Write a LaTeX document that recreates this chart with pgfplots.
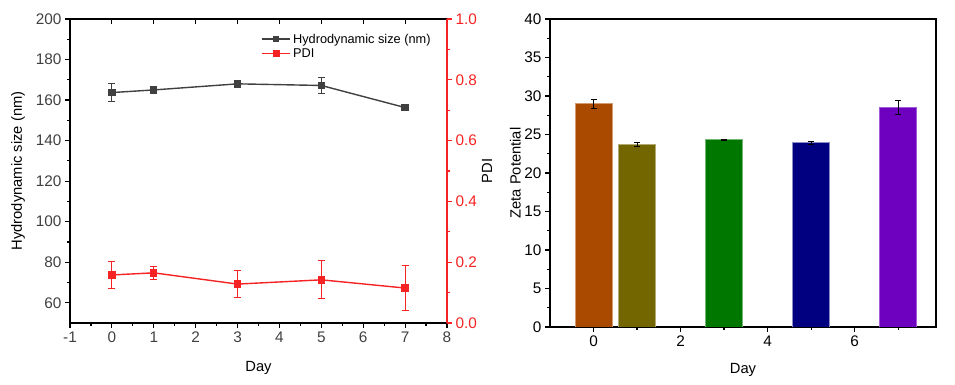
\documentclass[border=0pt]{standalone}
\usepackage{fontspec}
\setmainfont{Liberation Sans}
\usepackage{pgfplots}
\pgfplotsset{compat=1.18}
\definecolor{hgray}{RGB}{64,64,64}
\definecolor{pdired}{RGB}{245,35,35}
\definecolor{cA}{RGB}{170,74,0}
\definecolor{cB}{RGB}{115,102,0}
\definecolor{cC}{RGB}{0,120,0}
\definecolor{cD}{RGB}{0,0,128}
\definecolor{cE}{RGB}{110,0,192}
\pgfplotsset{
  every axis/.append style={font=\fontsize{14.8}{17}\selectfont, /pgf/number format/assume math mode=true},
  common/.style={scale only axis, anchor=south west, tick align=outside,
    major tick length=5bp, minor tick length=3bp,
    tick label style={font=\fontsize{15.4}{17}\selectfont},
    axis line style={line width=1.5bp}, every tick/.style={line width=1.2bp}},
}
\begin{document}
\begin{tikzpicture}
\path[use as bounding box] (0bp,0bp) rectangle (955bp,385bp);
% ---- left chart, main axis
\begin{axis}[common, at={(70bp,62bp)}, width=377bp, height=304bp,
  xmin=-1, xmax=8, ymin=50, ymax=200,
  xtick={-1,0,...,8}, ytick={60,80,...,200},
  minor x tick num=1, minor y tick num=1,
  xtick pos=bottom, ytick pos=left,
  ticklabel style={text=hgray},
  xlabel={Day}, ylabel={Hydrodynamic size (nm)},
  xlabel style={at={(axis description cs:0.5,-0.148)}, anchor=center},
  ylabel style={at={(axis description cs:-0.138,0.5)}, anchor=center},
]
\addplot[hgray, line width=1.4bp, mark=square*, mark size=3bp,
  error bars/.cd, y dir=both, y explicit,
  error bar style={line width=1bp, hgray},
  error mark options={rotate=90, mark size=3.5bp, line width=1bp, hgray}]
coordinates {(0,163.7) +- (0,4.5) (1,165.0) +- (0,1.4) (3,168.0) +- (0,1.0) (5,167.2) +- (0,4.1) (7,156.3) +- (0,1.5)};
\end{axis}
% ---- top ticks inward
\begin{axis}[common, at={(70bp,62bp)}, width=377bp, height=304bp,
  xmin=-1, xmax=8, ymin=50, ymax=200,
  axis x line*=top, axis y line=none, tick align=inside,
  xtick={-1,0,...,8}, xticklabels={}, ytick=\empty]
\addplot[draw=none] coordinates {(0,100)};
\end{axis}
% ---- left chart, PDI axis
\begin{axis}[common, at={(70bp,62bp)}, width=377bp, height=304bp,
  xmin=-1, xmax=8, ymin=0, ymax=1,
  axis x line=none, axis y line*=right,
  ytick={0,0.2,...,1.0}, minor y tick num=1,
  axis line style={pdired, line width=1.5bp},
  every tick/.style={pdired, line width=1.2bp},
  yticklabel style={text=pdired, /pgf/number format/.cd, fixed, fixed zerofill, precision=1},
  ylabel={PDI},
  ylabel style={at={(axis description cs:1.106,0.5)}, anchor=center},
  legend style={draw=none, fill=none, at={(0.5,0.965)}, anchor=north west,
    font=\fontsize{12.8}{14}\selectfont, row sep=0bp, text=black},
  legend cell align=left,
  legend image code/.code={\draw[mark repeat=2,mark phase=2,#1] plot coordinates {(0bp,0bp) (14bp,0bp) (28bp,0bp)};},
]
\addlegendimage{hgray, line width=1.4bp, mark=square*, mark size=2.3bp}
\addlegendentry{Hydrodynamic size (nm)}
\addplot[pdired, line width=1.4bp, mark=square*, mark size=3bp,
  error bars/.cd, y dir=both, y explicit,
  error bar style={line width=1bp, pdired},
  error mark options={rotate=90, mark size=3.5bp, line width=1bp, pdired}]
coordinates {(0,0.158) +- (0,0.044) (1,0.165) +- (0,0.022) (3,0.128) +- (0,0.044) (5,0.142) +- (0,0.062) (7,0.115) +- (0,0.073)};
\addlegendentry{PDI}
\end{axis}
% ---- right chart
\begin{axis}[common, at={(550bp,58bp)}, width=386bp, height=308bp,
  xmin=-1, xmax=7.87, ymin=0, ymax=40,
  xtick={0,2,4,6}, minor xtick={1,3,5,7},
  ytick={0,5,...,40}, minor y tick num=1,
  xtick pos=bottom, ytick pos=left,
  xlabel={Day}, ylabel={Zeta Potential},
  xlabel style={at={(axis description cs:0.5,-0.138)}, anchor=center},
  ylabel style={at={(axis description cs:-0.09,0.5)}, anchor=center},
]
\pgfplotsset{zbar/.style={ybar, bar width=0.85, bar shift=0pt, line width=1bp,
  error bars/.cd, y dir=both, y explicit,
  error bar style={line width=1bp, black},
  error mark options={rotate=90, mark size=3bp, line width=1bp, black}}}
\addplot[fill=cA, draw=cA!55!white, zbar] coordinates {(0,29.0) +- (0,0.6)};
\addplot[fill=cB, draw=cB!55!white, zbar] coordinates {(1,23.7) +- (0,0.3)};
\addplot[fill=cC, draw=cC!55!white, zbar] coordinates {(3,24.3) +- (0,0.1)};
\addplot[fill=cD, draw=cD!45!white, zbar] coordinates {(5,23.95) +- (0,0.2)};
\addplot[fill=cE, draw=cE!65!white, zbar] coordinates {(7,28.5) +- (0,0.9)};
\end{axis}
\end{tikzpicture}
\end{document}
